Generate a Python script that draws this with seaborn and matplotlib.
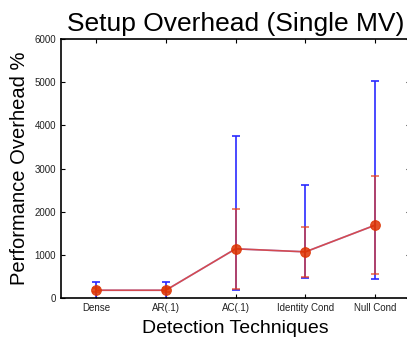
import numpy as np
import pandas as pd
import seaborn as sns
import matplotlib
matplotlib.use("Agg")
import matplotlib.pyplot as plt

techniques = ["Dense", "AR(.1)", "AC(.1)", "Identity Cond", "Null Cond"]
mean_overhead = [180, 180, 1140, 1070, 1690]
# wide spread (blue)
blue_upper = [370, 370, 3750, 2630, 5030]
blue_lower = [-50, -50, 180, 470, 440]
# narrow spread (red)
red_upper = [230, 230, 2070, 1640, 2830]
red_lower = [140, 140, 200, 490, 560]

sns.set_style("ticks", {"axes.edgecolor": "black", "text.color": "black",
                        "xtick.color": "black", "ytick.color": "black",
                        "axes.labelcolor": "black"})
plt.rcParams["font.family"] = ["Liberation Sans", "DejaVu Sans"]

df = pd.DataFrame({"pos": np.arange(1, 6), "mean": mean_overhead})

fig = plt.figure(figsize=(4.07, 3.40), dpi=100)
ax = fig.add_axes([0.150, 0.1235, 0.858, 0.7615])

m = np.array(mean_overhead)
ax.errorbar(df["pos"], m,
            yerr=[m - np.array(blue_lower), np.array(blue_upper) - m],
            fmt="none", ecolor="#2a2aff", elinewidth=1.2, capsize=3, capthick=1.2)
sns.lineplot(data=df, x="pos", y="mean", ax=ax, color="#3050ff", lw=1.2, alpha=0.5)
ax.errorbar(df["pos"], m,
            yerr=[m - np.array(red_lower), np.array(red_upper) - m],
            fmt="none", ecolor="#e8401a", elinewidth=1.2, capsize=3, capthick=1.2,
            alpha=0.75)
sns.lineplot(data=df, x="pos", y="mean", ax=ax, color="#e03a30", lw=1.2, alpha=0.85,
             marker="o", markersize=7, markerfacecolor="#dd3300",
             markeredgecolor="#dd3300")

ax.set_xlim(0.5, 5.5)
ax.set_ylim(0, 6000)
ax.set_xticks(df["pos"])
ax.set_xticklabels(techniques)
ax.set_yticks(range(0, 6001, 1000))
ax.tick_params(direction="in", top=True, right=True, labelsize=7, length=3,
               width=0.8, colors="black", labelcolor="#222222")
for s in ax.spines.values():
    s.set_linewidth(1.2)
    s.set_color("black")

ax.set_title("Setup Overhead (Single MV)", fontsize=19, pad=6, color="black")
ax.set_xlabel("Detection Techniques", fontsize=14, labelpad=5, color="black")
ax.set_ylabel("Performance Overhead %", fontsize=14.5, labelpad=4, color="black")

fig.savefig("out.png", dpi=100)
